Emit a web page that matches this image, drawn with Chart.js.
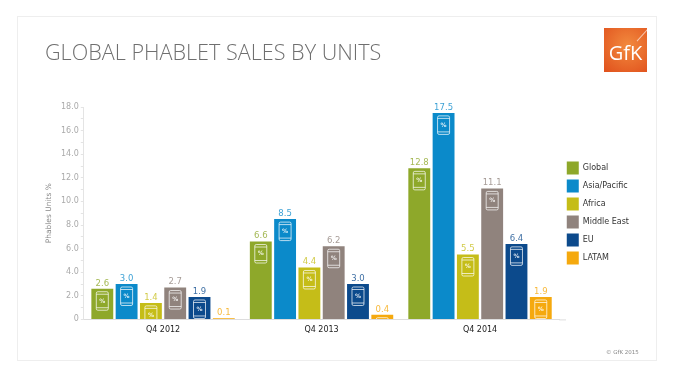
<!DOCTYPE html>
<html>
<head>
<meta charset="utf-8">
<script src="https://cdn.jsdelivr.net/npm/chart.js@4"></script>
<style>
html, body { margin: 0; padding: 0; background: #fff; }
#wrap { position: relative; width: 673px; height: 373px; overflow: hidden; font-family: "DejaVu Sans", sans-serif; }
#frame { position: absolute; left: 17px; top: 16px; width: 640px; height: 345px; border: 1px solid #eeeeee; box-sizing: border-box; }
#title { position: absolute; left: 45px; top: 37px; font: 300 21.6px "Open Sans", sans-serif; color: #6f6f6f; white-space: nowrap; }
#logo { position: absolute; left: 604px; top: 28px; width: 43px; height: 44px; background: radial-gradient(circle at 55% 40%, #f28a3e, #e0501c); color: #fff; font: 400 20px "Open Sans", sans-serif; text-align: center; line-height: 50px; overflow: hidden; }
#logo i { position: absolute; left: 30px; top: 6px; width: 18px; height: 1px; background: rgba(255,255,255,0.6); transform: rotate(-48deg); }
#copy { position: absolute; left: 606px; top: 349px; font-size: 5.5px; color: #888; white-space: nowrap; }
canvas { position: absolute; left: 0; top: 0; }
</style>
</head>
<body>
<div id="wrap">
  <div id="frame"></div>
  <canvas id="myChart" width="673" height="373"></canvas>
  <div id="title">GLOBAL PHABLET SALES BY UNITS</div>
  <div id="logo">GfK<i></i></div>
  <div id="copy">© GfK 2015</div>
</div>
<script>
const quarters = ["Q4 2012", "Q4 2013", "Q4 2014"];
const global_units = [2.6, 6.6, 12.8];
const asia_pacific = [3.0, 8.5, 17.5];
const africa = [1.4, 4.4, 5.5];
const middle_east = [2.7, 6.2, 11.1];
const eu = [1.9, 3.0, 6.4];
const latam = [0.1, 0.4, 1.9];

function series(label, data, color) {
    return {
        label: label,
        data: data,
        backgroundColor: color,
        categoryPercentage: 0.92,
        barPercentage: 0.9
    };
}

// value above each bar, phone icon with % inside it
const barDecor = {
    id: 'barDecor',
    afterLayout(chart) {
        // legend sits higher than the middle of the plot and a bit right of it
        chart.legend.top -= 11;
        chart.legend.bottom -= 11;
        chart.legend.left += 2.5;
        chart.legend.right += 2.5;
    },
    afterDatasetsDraw(chart) {
        const ctx = chart.ctx;
        const area = chart.chartArea;

        // x axis runs on a little past the last group
        ctx.save();
        ctx.strokeStyle = '#dddddd';
        ctx.beginPath();
        ctx.moveTo(area.right, area.bottom + 0.5);
        ctx.lineTo(566, area.bottom + 0.5);
        ctx.stroke();
        ctx.restore();

        chart.data.datasets.forEach((ds, i) => {
            chart.getDatasetMeta(i).data.forEach((bar, j) => {
                const left = bar.x - bar.width / 2;
                const h = bar.base - bar.y;

                ctx.save();
                ctx.fillStyle = ds.backgroundColor;
                ctx.globalAlpha = 0.8;
                ctx.font = '8.5px "DejaVu Sans"';
                ctx.textAlign = 'center';
                ctx.textBaseline = 'bottom';
                ctx.fillText(ds.data[j].toFixed(1), bar.x, bar.y - 1);
                ctx.restore();

                if (h < 3) return;
                ctx.save();
                ctx.beginPath();
                ctx.rect(left, bar.y, bar.width, h);
                ctx.clip();
                const w = 12, ih = 18.5, top = bar.y + 3;
                ctx.strokeStyle = 'rgba(255,255,255,0.7)';
                ctx.lineWidth = 1;
                ctx.beginPath();
                ctx.roundRect(bar.x - w / 2, top, w, ih, 1.5);
                ctx.moveTo(bar.x - w / 2, top + 2.5);
                ctx.lineTo(bar.x + w / 2, top + 2.5);
                ctx.moveTo(bar.x - w / 2, top + ih - 2.5);
                ctx.lineTo(bar.x + w / 2, top + ih - 2.5);
                ctx.stroke();
                ctx.fillStyle = 'rgba(255,255,255,0.85)';
                ctx.font = 'bold 6px "DejaVu Sans"';
                ctx.textAlign = 'center';
                ctx.textBaseline = 'middle';
                ctx.fillText('%', bar.x, top + ih / 2);
                ctx.restore();
            });
        });
    }
};

new Chart(document.getElementById('myChart'), {
    type: 'bar',
    data: {
        labels: quarters,
        datasets: [
            series('Global', global_units, '#8ea82a'),
            series('Asia/Pacific', asia_pacific, '#0b8aca'),
            series('Africa', africa, '#c5bd18'),
            series('Middle East', middle_east, '#90837d'),
            series('EU', eu, '#0c4a8c'),
            series('LATAM', latam, '#f5a90e')
        ]
    },
    options: {
        responsive: false,
        animation: false,
        layout: { padding: { left: 43, right: 36.5, top: 107, bottom: 32 } },
        plugins: {
            tooltip: { enabled: false },
            legend: {
                position: 'right',
                align: 'center',
                labels: {
                    boxWidth: 12,
                    boxHeight: 13,
                    padding: 5,
                    color: '#333',
                    font: { family: '"DejaVu Sans"', size: 8 }
                }
            }
        },
        scales: {
            x: {
                grid: { display: false, drawTicks: false },
                border: { color: '#dddddd' },
                ticks: { color: '#222', padding: 6, font: { family: '"DejaVu Sans"', size: 8 } }
            },
            y: {
                min: 0,
                max: 18,
                grid: { drawOnChartArea: false, color: '#e4e4e4', tickLength: 3 },
                border: { color: '#e4e4e4' },
                title: { display: true, text: 'Phables Units %', color: '#888', font: { family: '"DejaVu Sans"', size: 7.5 }, padding: { top: 2, bottom: 5 } },
                ticks: {
                    stepSize: 1,
                    autoSkip: false,
                    color: '#aaa',
                    padding: 2,
                    font: { family: '"DejaVu Sans"', size: 8 },
                    callback: function(v) { return v === 0 ? '0' : (v % 2 === 0 ? v.toFixed(1) : ''); }
                }
            }
        }
    },
    plugins: [barDecor]
});
</script>
</body>
</html>
